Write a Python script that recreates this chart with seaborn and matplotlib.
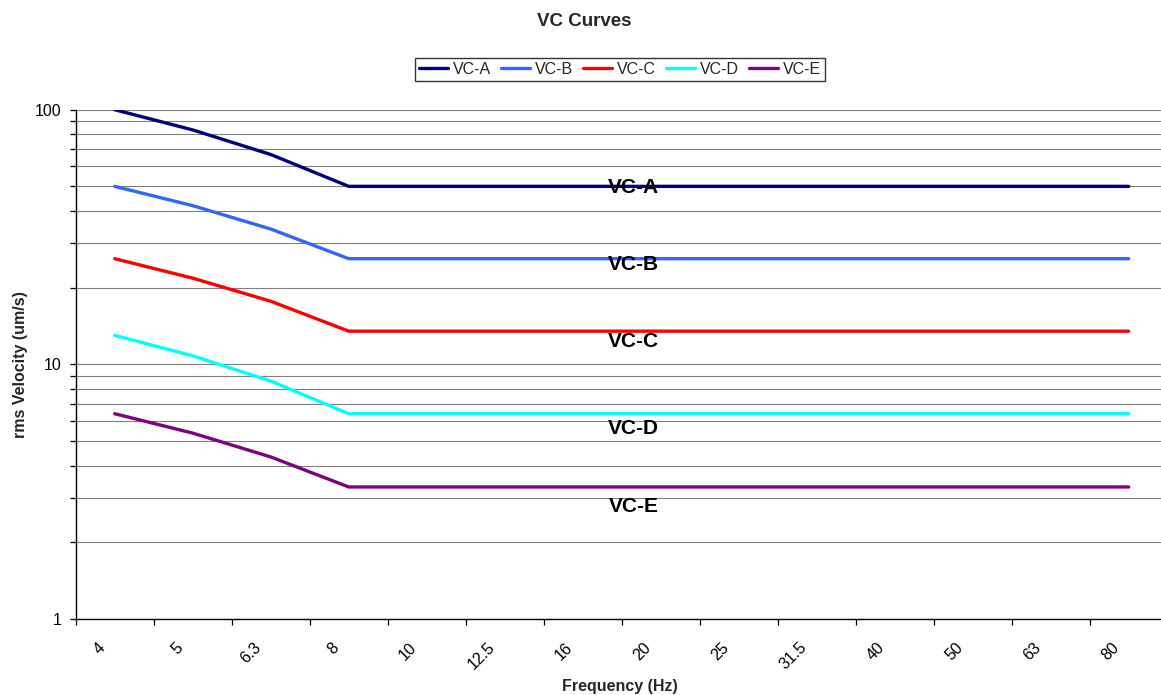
import matplotlib
matplotlib.use("Agg")
import matplotlib.pyplot as plt
import matplotlib.transforms as mtransforms
from matplotlib.ticker import LogLocator, NullFormatter, FixedLocator, FuncFormatter
import numpy as np
import pandas as pd
import seaborn as sns

# One-third-octave centre frequencies (Hz)
frequencies = ["4", "5", "6.3", "8", "10", "12.5", "16", "20", "25", "31.5", "40", "50", "63", "80"]

# rms velocity criteria (um/s) for each vibration class
vc_a = [100, 83.3, 66.7, 50, 50, 50, 50, 50, 50, 50, 50, 50, 50, 50]
vc_b = [50, 42, 34, 26, 26, 26, 26, 26, 26, 26, 26, 26, 26, 26]
vc_c = [26, 21.8, 17.7, 13.5, 13.5, 13.5, 13.5, 13.5, 13.5, 13.5, 13.5, 13.5, 13.5, 13.5]
vc_d = [13, 10.8, 8.6, 6.4, 6.4, 6.4, 6.4, 6.4, 6.4, 6.4, 6.4, 6.4, 6.4, 6.4]
vc_e = [6.4, 5.37, 4.33, 3.3, 3.3, 3.3, 3.3, 3.3, 3.3, 3.3, 3.3, 3.3, 3.3, 3.3]

curve_names = ["VC-A", "VC-B", "VC-C", "VC-D", "VC-E"]
curve_colors = ["#000080", "#3366FF", "#FF0000", "#00FFFF", "#800080"]

df = pd.concat(
    [pd.DataFrame({"freq": frequencies, "vel": vals, "curve": name})
     for name, vals in zip(curve_names, [vc_a, vc_b, vc_c, vc_d, vc_e])],
    ignore_index=True,
)

sns.set_style("white")
plt.rcParams["font.family"] = ["Liberation Sans", "DejaVu Sans"]

W, H = 1161, 695
fig = plt.figure(figsize=(W / 100, H / 100), dpi=100)
ax = fig.add_axes([75.7 / W, 1 - 619 / H, 1092 / W, (619 - 109.7) / H])

sns.lineplot(data=df, x="freq", y="vel", hue="curve", palette=curve_colors,
             linewidth=2.4, sort=False, ax=ax, legend=False, zorder=3)

ax.set_yscale("log")
ax.set_ylim(1, 100)
ax.set_xlim(-0.5, len(frequencies) - 0.5)

# horizontal grid at every decade and sub-decade step
ax.yaxis.set_major_locator(LogLocator(base=10, numticks=10))
ax.yaxis.set_minor_locator(LogLocator(base=10, subs=np.arange(2, 10), numticks=10))
ax.yaxis.set_minor_formatter(NullFormatter())
ax.yaxis.set_major_formatter(FuncFormatter(lambda v, p: f"{v:g}"))
ax.yaxis.grid(True, which="both", color="#808080", linewidth=0.8, zorder=0)
ax.xaxis.grid(False)
ax.set_axisbelow(True)

for side in ["top", "right"]:
    ax.spines[side].set_visible(False)
for side in ["left", "bottom"]:
    ax.spines[side].set_color("black")
    ax.spines[side].set_linewidth(1.0)

ax.tick_params(axis="y", which="both", length=4, width=0.9, color="black",
               direction="out", left=True, labelsize=11.5, pad=6, labelcolor="black")

# x ticks sit on category boundaries, labels at category centres
ax.set_xticks(range(len(frequencies)))
ax.set_xticklabels(frequencies)
ax.xaxis.set_minor_locator(FixedLocator(np.arange(-0.5, len(frequencies), 1.0)))
ax.tick_params(axis="x", which="major", length=0, labelsize=11.5, pad=15, labelcolor="black")
ax.tick_params(axis="x", which="minor", length=4, width=0.9, color="black",
               direction="out", bottom=True)
shift = mtransforms.ScaledTranslation(-7 / 100, 0, fig.dpi_scale_trans)
for lbl in ax.get_xticklabels():
    lbl.set_rotation(45)
    lbl.set_ha("right")
    lbl.set_va("top")
    lbl.set_transform(lbl.get_transform() + shift)

ax.set_xlabel("Frequency (Hz)", fontsize=11.5, fontweight="bold")
ax.set_ylabel("rms Velocity (um/s)", fontsize=11.5, fontweight="bold")
ax.xaxis.set_label_coords((620 - 75.7) / 1092, -(687 - 619) / (619 - 109.7))
ax.xaxis.label.set_va("center")
ax.yaxis.set_label_coords((20.7 - 75.7) / 1092, 0.5)
ax.yaxis.label.set_va("center")

# in-plot curve names
label_x = 6.65
label_y = [49.3, 24.6, 12.3, 5.58, 2.77]
for name, yv in zip(curve_names, label_y):
    ax.text(label_x, yv, name, ha="center", va="center", fontsize=15,
            fontweight="bold", color="black", zorder=4)

handles = [plt.Line2D([], [], color=c, linewidth=2.4) for c in curve_colors]
leg = fig.legend(handles, curve_names, loc="center", bbox_to_anchor=(620 / W, 1 - 69.5 / H),
                 ncol=5, fontsize=11.5, frameon=True, fancybox=False, shadow=False,
                 handlelength=1.8, handletextpad=0.3, columnspacing=0.65,
                 borderpad=0.25, borderaxespad=0)
leg.get_frame().set_edgecolor("black")
leg.get_frame().set_linewidth(1.0)

fig.text(584 / W, 1 - 22 / H, "VC Curves", ha="center", va="center",
         fontsize=13.5, fontweight="bold")

fig.savefig("out.png", dpi=100)
